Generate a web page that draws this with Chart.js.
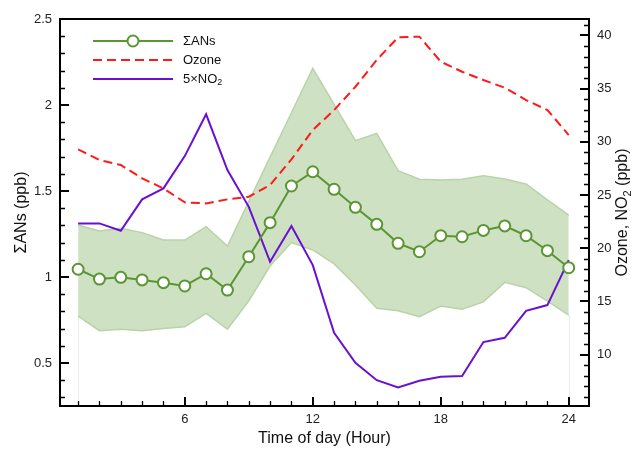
<!DOCTYPE html>
<html>
<head>
<meta charset="utf-8">
<script src="https://cdn.jsdelivr.net/npm/chart.js@4.4.0/dist/chart.umd.min.js"></script>
<style>
html,body{margin:0;padding:0;background:#fff;}
#wrap{width:635px;height:450px;}
</style>
</head>
<body>
<div id="wrap"><canvas id="c" width="635" height="450"></canvas></div>
<script>
// ---- data ----
const hours = [1,2,3,4,5,6,7,8,9,10,11,12,13,14,15,16,17,18,19,20,21,22,23,24];
const ANs = [1.045,0.988,0.998,0.983,0.967,0.948,1.019,0.924,1.118,1.316,1.529,1.612,1.510,1.405,1.306,1.196,1.147,1.240,1.234,1.271,1.297,1.240,1.153,1.054];
const ANsUpper = [1.302,1.267,1.283,1.258,1.215,1.215,1.293,1.180,1.438,1.697,1.955,2.213,2.004,1.793,1.835,1.618,1.568,1.564,1.568,1.589,1.570,1.541,1.448,1.360];
const ANsLower = [0.773,0.688,0.696,0.688,0.700,0.711,0.789,0.696,0.862,1.064,1.200,1.157,1.076,0.953,0.818,0.804,0.769,0.831,0.812,0.856,0.969,0.938,0.860,0.779];
const ozone = [29.29,28.29,27.82,26.57,25.62,24.31,24.21,24.59,24.84,25.94,28.35,31.11,32.99,35.18,37.70,39.83,39.89,37.54,36.59,35.81,35.09,33.93,32.99,30.64];
const no2x5 = [22.33,22.33,21.64,24.59,25.62,28.66,32.59,27.35,23.89,18.72,22.08,18.41,12.04,9.22,7.59,6.90,7.53,7.90,7.97,11.17,11.57,14.11,14.65,18.88];
const xTicks = [6,12,18,24];
const leftTicks = [0.5,1,1.5,2,2.5];
const rightTicks = [10,15,20,25,30,35,40];

const GREEN = '#5a9632', RED = '#ff1a1a', PURPLE = '#6a10d0';
const FONT = '"Liberation Sans", Arial, Helvetica, sans-serif';

const pts = arr => hours.map((h,i)=>({x:h,y:arr[i]}));

const decor = {
  id:'decor',
  beforeDatasetsDraw(chart){
    // faint edges at first/last hour below the band
    const ctx = chart.ctx, a = chart.chartArea;
    const sx = chart.scales.x, sy = chart.scales.y;
    ctx.save();
    ctx.strokeStyle = 'rgba(200,200,200,0.35)';
    ctx.lineWidth = 1;
    [0, hours.length-1].forEach(i => {
      const x = Math.round(sx.getPixelForValue(hours[i])) + 0.5;
      ctx.beginPath(); ctx.moveTo(x, sy.getPixelForValue(ANsLower[i])); ctx.lineTo(x, a.bottom); ctx.stroke();
    });
    ctx.restore();
  },
  afterDraw(chart){
    const ctx = chart.ctx, a = chart.chartArea;
    const sx = chart.scales.x, sy = chart.scales.y, sy2 = chart.scales.y2;
    ctx.save();
    ctx.strokeStyle = '#000';
    // minor ticks
    ctx.lineWidth = 1.3;
    ctx.beginPath();
    for (let h = 1; h <= 24; h++) {
      if (xTicks.includes(h)) continue;
      const x = Math.round(sx.getPixelForValue(h)) + 0.5;
      ctx.moveTo(x, a.bottom); ctx.lineTo(x, a.bottom - 5);
    }
    for (let k = 3; k <= 24; k++) {
      if (k % 5 === 0) continue;
      const y = Math.round(sy.getPixelForValue(k/10)) + 0.5;
      ctx.moveTo(a.left, y); ctx.lineTo(a.left + 5, y);
    }
    for (let v = 6; v <= 41; v++) {
      if (v % 5 === 0) continue;
      const y = Math.round(sy2.getPixelForValue(v)) + 0.5;
      ctx.moveTo(a.right, y); ctx.lineTo(a.right - 5, y);
    }
    ctx.stroke();
    // major ticks
    ctx.lineWidth = 2;
    ctx.beginPath();
    xTicks.forEach(h => { const x = Math.round(sx.getPixelForValue(h)); ctx.moveTo(x, a.bottom); ctx.lineTo(x, a.bottom - 9); });
    leftTicks.forEach(v => { const y = Math.round(sy.getPixelForValue(v)); ctx.moveTo(a.left, y); ctx.lineTo(a.left + 9, y); });
    rightTicks.forEach(v => { const y = Math.round(sy2.getPixelForValue(v)); ctx.moveTo(a.right, y); ctx.lineTo(a.right - 9, y); });
    ctx.stroke();
    // frame
    ctx.lineWidth = 2;
    ctx.strokeRect(a.left, a.top, a.right - a.left, a.bottom - a.top);

    // axis titles
    ctx.fillStyle = '#111';
    ctx.font = '16px ' + FONT;
    ctx.textAlign = 'center';
    ctx.textBaseline = 'middle';
    ctx.fillText('Time of day (Hour)', (a.left + a.right)/2, 439);
    ctx.save();
    ctx.translate(22, (a.top + a.bottom)/2);
    ctx.rotate(-Math.PI/2);
    ctx.fillText('ΣANs (ppb)', 0, 0);
    ctx.restore();
    // right title with subscript
    ctx.save();
    ctx.translate(623, (a.top + a.bottom)/2);
    ctx.rotate(-Math.PI/2);
    const p1 = 'Ozone, NO', p2 = '2', p3 = ' (ppb)';
    ctx.font = '16px ' + FONT; const w1 = ctx.measureText(p1).width, w3 = ctx.measureText(p3).width;
    ctx.font = '11px ' + FONT; const w2 = ctx.measureText(p2).width;
    let x0 = -(w1 + w2 + w3)/2;
    ctx.textAlign = 'left';
    ctx.font = '16px ' + FONT; ctx.fillText(p1, x0, 0);
    ctx.font = '11px ' + FONT; ctx.fillText(p2, x0 + w1, 5);
    ctx.font = '16px ' + FONT; ctx.fillText(p3, x0 + w1 + w2, 0);
    ctx.restore();

    // legend
    const lx0 = 93, lx1 = 173, tx = 183;
    const rows = [41, 60, 79];
    ctx.lineWidth = 2;
    ctx.strokeStyle = GREEN; ctx.setLineDash([]);
    ctx.beginPath(); ctx.moveTo(lx0, rows[0]); ctx.lineTo(lx1, rows[0]); ctx.stroke();
    ctx.fillStyle = '#fff';
    ctx.beginPath(); ctx.arc((lx0+lx1)/2, rows[0], 5.5, 0, Math.PI*2); ctx.fill(); ctx.stroke();
    ctx.strokeStyle = RED; ctx.setLineDash([9,5]);
    ctx.beginPath(); ctx.moveTo(lx0, rows[1]); ctx.lineTo(lx1, rows[1]); ctx.stroke();
    ctx.setLineDash([]);
    ctx.strokeStyle = PURPLE;
    ctx.beginPath(); ctx.moveTo(lx0, rows[2]); ctx.lineTo(lx1, rows[2]); ctx.stroke();
    ctx.fillStyle = '#111';
    ctx.textAlign = 'left'; ctx.textBaseline = 'middle';
    ctx.font = '13px ' + FONT;
    ctx.fillText('ΣANs', tx, rows[0]);
    ctx.fillText('Ozone', tx, rows[1]);
    const n1 = '5×NO'; ctx.fillText(n1, tx, rows[2]);
    const wn = ctx.measureText(n1).width;
    ctx.font = '9px ' + FONT; ctx.fillText('2', tx + wn, rows[2] + 4);
    ctx.restore();
  }
};

const tickFont = {family: FONT, size: 13};
const plain = v => String(v);
new Chart(document.getElementById('c'), {
  type: 'line',
  data: {
    datasets: [
      {label:'ΣANs', data: pts(ANs), yAxisID:'y', borderColor: GREEN, borderWidth: 2,
       pointRadius: 5.5, pointBorderWidth: 2, pointBackgroundColor:'#fff', pointBorderColor: GREEN, order: 0, fill:false},
      {label:'5×NO2', data: pts(no2x5), yAxisID:'y2', borderColor: PURPLE, borderWidth: 2, pointRadius: 0, order: 1, fill:false},
      {label:'Ozone', data: pts(ozone), yAxisID:'y2', borderColor: RED, borderWidth: 2, borderDash:[9,5], pointRadius: 0, order: 2, fill:false},
      {label:'upper', data: pts(ANsUpper), yAxisID:'y', borderColor: '#b9d3a8', borderWidth: 1.5, pointRadius: 0,
       backgroundColor: '#cfe1c3', fill: '+1', order: 4},
      {label:'lower', data: pts(ANsLower), yAxisID:'y', borderColor: '#b9d3a8', borderWidth: 1.5, pointRadius: 0, fill:false, order: 3}
    ]
  },
  options: {
    responsive: false, animation: false,
    layout: {padding: {top: 19, left: 0, right: 0, bottom: 0}},
    plugins: {legend: {display: false}, tooltip: {enabled: false}},
    elements: {line: {tension: 0}},
    scales: {
      x: {type:'linear', min: 0.15, max: 24.95,
          grid:{display:false, drawTicks:false}, border:{display:false},
          afterBuildTicks: s => { s.ticks = xTicks.map(v=>({value:v})); },
          afterFit: s => { s.height = 44; },
          ticks:{font: tickFont, color:'#222', padding: 6, maxRotation:0, autoSkip:false, callback: plain}},
      y: {type:'linear', position:'left', min: 0.25, max: 2.5,
          grid:{display:false, drawTicks:false}, border:{display:false},
          afterBuildTicks: s => { s.ticks = leftTicks.map(v=>({value:v})); },
          afterFit: s => { s.width = 60; },
          ticks:{font: tickFont, color:'#222', padding: 8, callback: plain}},
      y2: {type:'linear', position:'right', min: 5.16, max: 41.55,
          grid:{display:false, drawTicks:false}, border:{display:false},
          afterBuildTicks: s => { s.ticks = rightTicks.map(v=>({value:v})); },
          afterFit: s => { s.width = 46; },
          ticks:{font: tickFont, color:'#222', padding: 8, callback: plain}}
    }
  },
  plugins: [decor]
});
</script>
</body>
</html>
